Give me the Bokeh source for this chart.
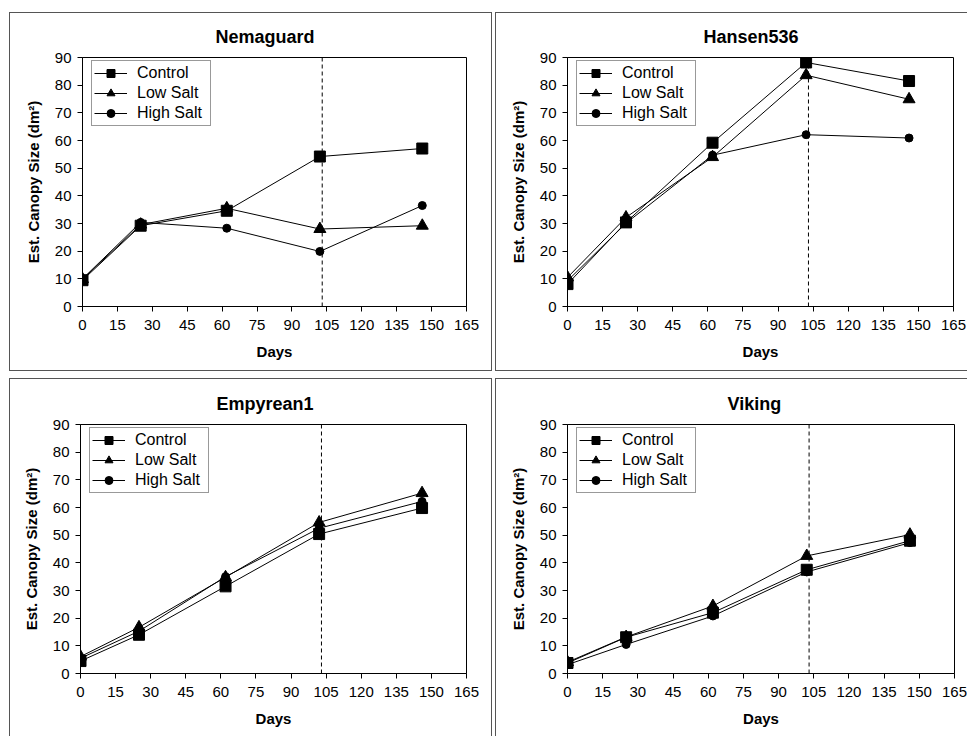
from bokeh.plotting import figure
from bokeh.layouts import column, row
from bokeh.models import Range1d, FixedTicker, Span, Legend, LegendItem
from bokeh.embed import file_html
from bokeh.resources import INLINE

# ---- data ----
days = [0, 25, 62, 102, 146]
x_ticks = [0, 15, 30, 45, 60, 75, 90, 105, 120, 135, 150, 165]
y_ticks = [0, 10, 20, 30, 40, 50, 60, 70, 80, 90]
series_names = ["Control", "Low Salt", "High Salt"]
cut_day = 103

panel_titles = ["Nemaguard", "Hansen536", "Empyrean1", "Viking"]

nemaguard_control = [9.5, 29.2, 34.6, 54.2, 57.1]
nemaguard_low = [9.9, 29.6, 35.5, 28.0, 29.2]
nemaguard_high = [10.0, 30.4, 28.3, 19.9, 36.5]

hansen_control = [8.1, 30.4, 59.2, 88.2, 81.5]
hansen_low = [10.5, 32.2, 54.0, 83.6, 74.9]
hansen_high = [9.3, 30.1, 54.7, 62.1, 60.9]

empyrean_control = [4.5, 14.0, 31.5, 50.4, 59.8]
empyrean_low = [6.1, 16.7, 34.8, 54.6, 65.2]
empyrean_high = [5.5, 15.3, 35.0, 52.5, 62.2]

viking_control = [3.8, 13.1, 22.0, 37.5, 48.0]
viking_low = [4.1, 13.2, 24.4, 42.5, 50.2]
viking_high = [3.2, 10.5, 20.8, 36.7, 47.3]

panel_data = [
    [nemaguard_control, nemaguard_low, nemaguard_high],
    [hansen_control, hansen_low, hansen_high],
    [empyrean_control, empyrean_low, empyrean_high],
    [viking_control, viking_low, viking_high],
]

FONT = "Liberation Sans"
markers = ["square", "triangle", "circle"]
msizes = [11, 12, 8]

# panel geometry: (width, height, left, right, top, bottom, shadow sides, title offset)
geom = [
    (483, 359, 73, 26, 45, 65, "ltrb", 133),
    (472, 359, 72, 14, 45, 65, "ltb", 136),
    (483, 358, 71, 26, 46, 63, "ltr", 136),
    (472, 358, 72, 13, 46, 63, "lt", 160),
]

shadow_map = {
    "l": "inset 1px 0 0 0 #555555",
    "r": "inset -1px 0 0 0 #555555",
    "t": "inset 0 1px 0 0 #555555",
    "b": "inset 0 -1px 0 0 #555555",
}


def make_panel(title, data, g):
    w, h, bl, br, bt, bb, sides, toff = g
    p = figure(width=w, height=h, output_backend="svg", toolbar_location=None,
               x_range=Range1d(0, 165), y_range=Range1d(0, 90),
               min_border_left=bl, min_border_right=br,
               min_border_top=bt, min_border_bottom=bb,
               styles={"box-shadow": ", ".join(shadow_map[s] for s in sides)})
    p.border_fill_color = None
    p.background_fill_color = "white"
    p.outline_line_color = "black"
    p.outline_line_width = 1
    p.xgrid.visible = False
    p.ygrid.visible = False

    p.title.text = title
    p.title.text_font = FONT
    p.title.text_font_size = "18px"
    p.title.text_font_style = "bold"
    p.title.text_color = "black"
    p.title.align = "left"
    p.title.offset = toff
    p.title.standoff = 21

    p.xaxis.ticker = FixedTicker(ticks=x_ticks)
    p.yaxis.ticker = FixedTicker(ticks=y_ticks)
    for ax in (p.xaxis[0], p.yaxis[0]):
        ax.major_label_text_font = FONT
        ax.major_label_text_font_size = "15px"
        ax.major_label_text_color = "black"
        ax.axis_label_text_font = FONT
        ax.axis_label_text_font_size = "15px"
        ax.axis_label_text_font_style = "bold"
        ax.axis_label_text_color = "black"
        ax.major_tick_in = 0
        ax.major_tick_out = 5
        ax.minor_tick_in = 0
        ax.minor_tick_out = 0
        ax.axis_line_color = "black"
        ax.major_tick_line_color = "black"
    p.xaxis.axis_label = "Days"
    p.xaxis.major_label_standoff = 8
    p.xaxis.axis_label_standoff = 10
    p.yaxis.axis_label = "Est. Canopy Size (dm²)"
    p.yaxis.major_label_standoff = 6
    p.yaxis.axis_label_standoff = 10

    p.add_layout(Span(location=cut_day, dimension="height", line_color="black",
                      line_width=1, line_dash="4 3"))

    items = []
    for name, vals, mk, ms in zip(series_names, data, markers, msizes):
        lr = p.line(days, vals, line_color="black", line_width=1)
        sr = p.scatter(days, vals, marker=mk, size=ms, fill_color="black",
                       line_color="black")
        items.append(LegendItem(label=name, renderers=[lr, sr]))

    leg = Legend(items=items, location=(9, 180))
    leg.label_text_font = FONT
    leg.label_text_font_size = "16px"
    leg.label_text_color = "black"
    leg.glyph_width = 33
    leg.glyph_height = 20
    leg.label_height = 20
    leg.label_width = 71
    leg.label_standoff = 10
    leg.spacing = 0
    leg.padding = 2
    leg.margin = 0
    leg.border_line_color = "#333333"
    leg.border_line_width = 1
    leg.background_fill_color = "white"
    leg.background_fill_alpha = 1
    p.add_layout(leg, "center")
    return p


panels = [make_panel(t, d, g) for t, d, g in zip(panel_titles, panel_data, geom)]

layout = column(
    row(panels[0], panels[1], spacing=3),
    row(panels[2], panels[3], spacing=3),
    spacing=7,
    margin=(12, 0, 0, 9),
)

open("out.html", "w").write(file_html(layout, INLINE))
